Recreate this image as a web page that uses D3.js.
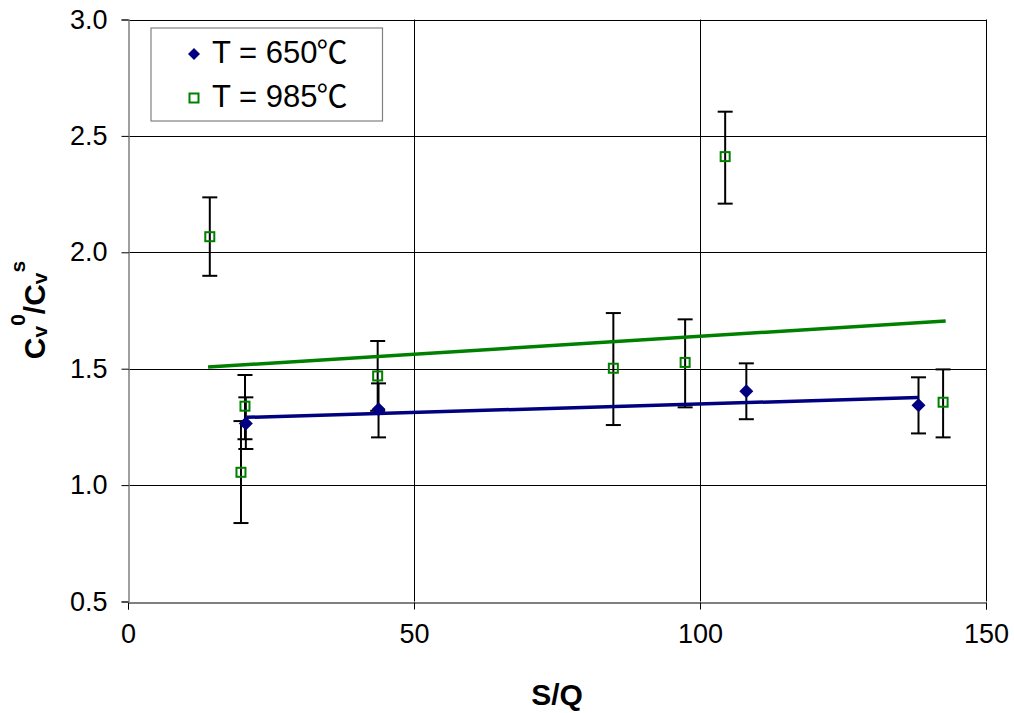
<!DOCTYPE html>
<html>
<head>
<meta charset="utf-8">
<script src="https://cdn.jsdelivr.net/npm/d3@7"></script>
<style>
  html, body { margin: 0; padding: 0; background: #fff; }
  svg { display: block; font-family: "Liberation Sans", Arial, "Noto Sans CJK SC", sans-serif; }
</style>
</head>
<body>
<svg id="chart" width="1014" height="713"></svg>
<script>
// ---- data ----
const seriesNames = ["T = 650", "T = 985"];
const unitLabel = "\u2103";

const x650 = [20.6, 43.8, 108.1, 138.2];
const y650 = [1.265, 1.326, 1.403, 1.343];
const errUp650 = [0.112, 0.111, 0.120, 0.120];
const errDn650 = [0.110, 0.121, 0.120, 0.121];

const x985 = [14.3, 19.75, 20.45, 43.65, 84.85, 97.4, 104.4, 142.5];
const y985 = [2.067, 1.055, 1.339, 1.469, 1.502, 1.527, 2.411, 1.356];
const errUp985 = [0.169, 0.220, 0.134, 0.150, 0.237, 0.185, 0.193, 0.141];
const errDn985 = [0.168, 0.218, 0.142, 0.150, 0.244, 0.193, 0.202, 0.151];

// trendline endpoints (x, y)
const trend650X = [20.75, 138.2];
const trend650Y = [1.291, 1.376];
const trend985X = [14.0, 142.95];
const trend985Y = [1.507, 1.705];

const xTicks = [0, 50, 100, 150];
const yTicks = [0.5, 1.0, 1.5, 2.0, 2.5, 3.0];

// ---- layout ----
const svg = d3.select("#chart");
const L = 128, R = 986, T = 19.5, B = 601.5;
const x = d3.scaleLinear().domain([0, 150]).range([L, R]);
const y = d3.scaleLinear().domain([0.5, 3.0]).range([B, T]);

const navy = "#000080", green = "#008000";

// gridlines
const g = svg.append("g");
g.selectAll("line.hg").data(yTicks.filter(d => d > 0.5)).enter().append("line")
  .attr("x1", L).attr("x2", R)
  .attr("y1", d => Math.round(y(d)) + 0.5).attr("y2", d => Math.round(y(d)) + 0.5)
  .attr("stroke", "#000").attr("stroke-width", 1);
g.selectAll("line.vg").data(xTicks.filter(d => d > 0)).enter().append("line")
  .attr("y1", T).attr("y2", B)
  .attr("x1", d => Math.round(x(d)) + 0.5).attr("x2", d => Math.round(x(d)) + 0.5)
  .attr("stroke", "#000").attr("stroke-width", 1);

// axes
const xAxis = d3.axisBottom(x).tickValues(xTicks).tickSize(7).tickPadding(14).tickFormat(d3.format("d"));
const gx = svg.append("g").attr("transform", `translate(0,${Math.round(B) + 0.5})`).call(xAxis);
gx.select(".domain").attr("stroke", "#000").attr("stroke-width", 1);
gx.selectAll(".tick line").attr("stroke", "#000");
gx.selectAll("text").attr("font-size", 27).attr("fill", "#000")
  .attr("font-family", "Liberation Sans, Arial, sans-serif");

const yAxis = d3.axisLeft(y).tickValues(yTicks).tickSize(7).tickPadding(14).tickFormat(d3.format(".1f"));
const gy = svg.append("g").attr("transform", `translate(${Math.round(L) + 0.5},0)`).call(yAxis);
gy.select(".domain").attr("stroke", "#808080").attr("stroke-width", 1.5);
gy.selectAll(".tick line").attr("stroke", "#000");
gy.selectAll("text").attr("font-size", 27).attr("fill", "#000")
  .attr("font-family", "Liberation Sans, Arial, sans-serif");

// error bars
function errorBars(xs, ys, up, dn) {
  const eg = svg.append("g").attr("stroke", "#000").attr("stroke-width", 2);
  xs.forEach((xv, i) => {
    const cx = x(xv), top = y(ys[i] + up[i]), bot = y(ys[i] - dn[i]);
    eg.append("line").attr("x1", cx).attr("x2", cx).attr("y1", top).attr("y2", bot);
    eg.append("line").attr("x1", cx - 7.5).attr("x2", cx + 7.5).attr("y1", top).attr("y2", top);
    eg.append("line").attr("x1", cx - 7.5).attr("x2", cx + 7.5).attr("y1", bot).attr("y2", bot);
  });
}
errorBars(x985, y985, errUp985, errDn985);
errorBars(x650, y650, errUp650, errDn650);

// trendlines
const line = d3.line().x(d => x(d[0])).y(d => y(d[1]));
svg.append("path").datum(d3.zip(trend985X, trend985Y)).attr("d", line)
  .attr("fill", "none").attr("stroke", green).attr("stroke-width", 3.5);
svg.append("path").datum(d3.zip(trend650X, trend650Y)).attr("d", line)
  .attr("fill", "none").attr("stroke", navy).attr("stroke-width", 3.5);

// markers
function diamond(sel, s) {
  return sel.attr("d", `M0,${-s}L${s},0L0,${s}L${-s},0Z`);
}
svg.append("g").selectAll("rect").data(d3.zip(x985, y985)).enter().append("rect")
  .attr("x", d => x(d[0]) - 4.5).attr("y", d => y(d[1]) - 4.5)
  .attr("width", 9).attr("height", 9)
  .attr("fill", "none").attr("stroke", green).attr("stroke-width", 2);
svg.append("g").selectAll("path").data(d3.zip(x650, y650)).enter().append("path")
  .attr("transform", d => `translate(${x(d[0])},${y(d[1])})`)
  .call(diamond, 7).attr("fill", navy);

// legend
const lg = svg.append("g");
lg.append("rect").attr("x", 151).attr("y", 28).attr("width", 231.5).attr("height", 93)
  .attr("fill", "#fff").attr("stroke", "#808080").attr("stroke-width", 1.2);
lg.append("path").attr("transform", "translate(194,54)").call(diamond, 6).attr("fill", navy);
lg.append("rect").attr("x", 189.5).attr("y", 93.5).attr("width", 9).attr("height", 9)
  .attr("fill", "none").attr("stroke", green).attr("stroke-width", 2);
const lt = lg.selectAll("text").data(seriesNames).enter().append("text")
  .attr("x", 212).attr("y", (d, i) => 63 + i * 44)
  .attr("font-size", 31).attr("fill", "#000");
lt.append("tspan").text(d => d);
lt.append("tspan").attr("font-family", "Noto Sans CJK SC").attr("dx", -1).text(unitLabel);

// axis titles
svg.append("text").attr("x", (L + R) / 2).attr("y", 705)
  .attr("text-anchor", "middle").attr("font-size", 30).attr("font-weight", "bold")
  .text("S/Q");

const yt = svg.append("text").attr("transform", "translate(45,310) rotate(-90)")
  .attr("text-anchor", "middle").attr("font-size", 30).attr("font-weight", "bold");
yt.append("tspan").text("C");
yt.append("tspan").attr("font-size", 21).attr("dy", 2).text("v");
yt.append("tspan").attr("font-size", 21).attr("dy", -22).text("0");
yt.append("tspan").attr("dy", 20).text("/C");
yt.append("tspan").attr("font-size", 21).attr("dy", 2).text("v");
yt.append("tspan").attr("font-size", 21).attr("dy", -22).text("s");
</script>
</body>
</html>
